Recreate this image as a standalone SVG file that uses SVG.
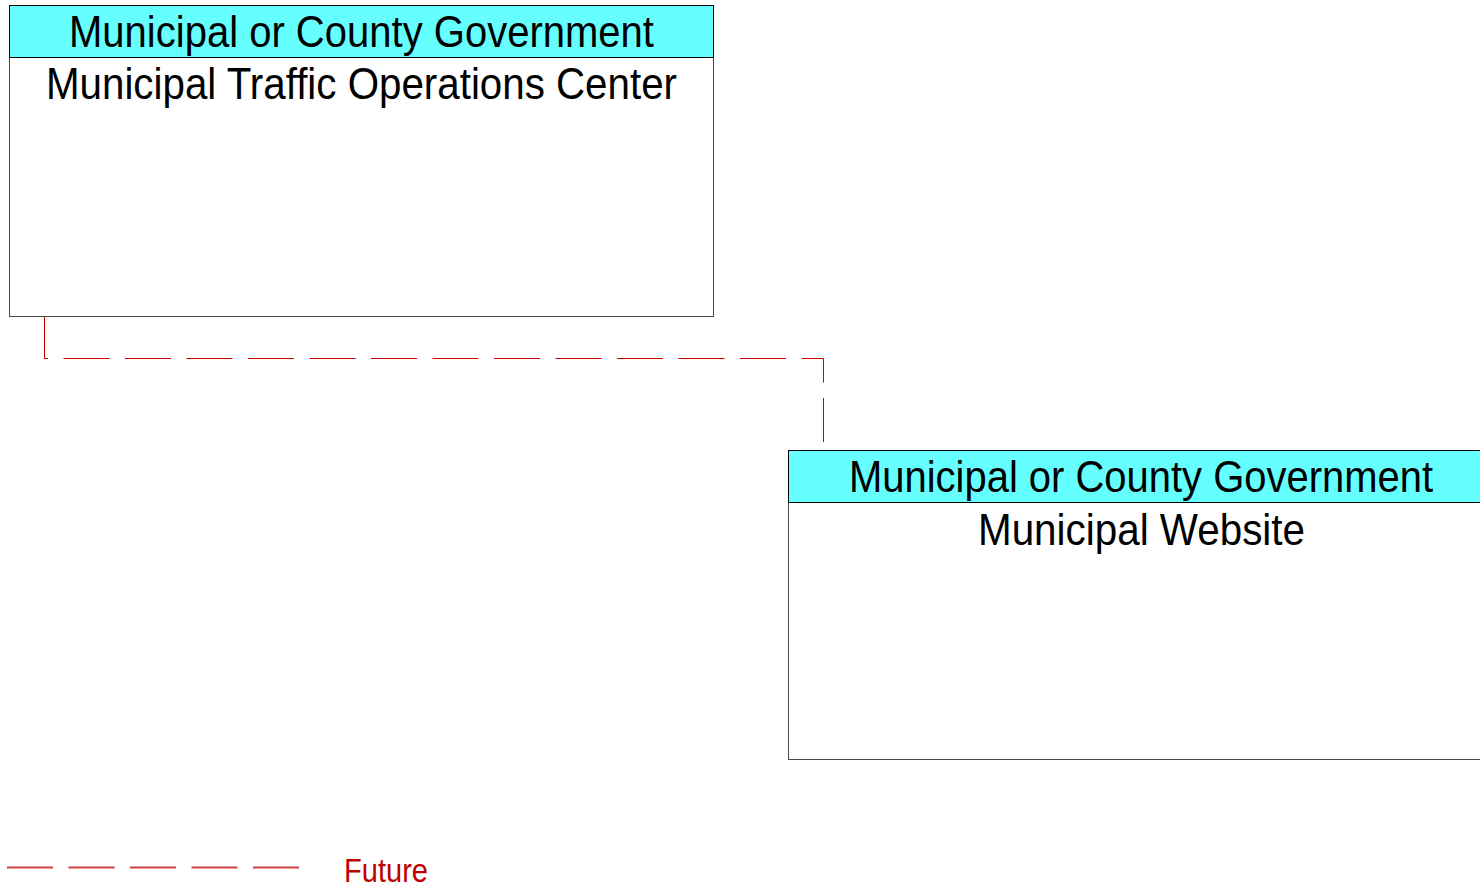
<svg xmlns="http://www.w3.org/2000/svg" width="1480" height="887" viewBox="0 0 1480 887">
<style>
.box{fill:#ffffff;stroke:#4a4a4a;stroke-width:1}
.hdr{fill:#66ffff;stroke:#000000;stroke-width:1}
.t{font-family:"Liberation Sans",Arial,sans-serif;font-size:44px;fill:#000000;text-anchor:middle}
.flow{fill:none;stroke:#cc0000;stroke-width:1;stroke-dasharray:46 15.5}
.leg{font-family:"Liberation Sans",Arial,sans-serif;font-size:34px;fill:#c00000}
</style>
<rect width="1480" height="887" fill="#ffffff"/>
<g id="connectors">
<path class="flow" d="M44.5,316 L44.5,358.5 L823.5,358.5 L823.5,442"/>
</g>
<g id="node-traffic-ops">
<rect class="box" x="9.5" y="5.5" width="704" height="311"/>
<rect class="hdr" x="9.5" y="5.5" width="704" height="52"/>
<text class="t" x="361.5" y="47" textLength="585" lengthAdjust="spacingAndGlyphs">Municipal or County Government</text>
<text class="t" x="361.5" y="99" textLength="631" lengthAdjust="spacingAndGlyphs">Municipal Traffic Operations Center</text>
</g>
<g id="node-website">
<rect class="box" x="788.5" y="450.5" width="704" height="309"/>
<rect class="hdr" x="788.5" y="450.5" width="704" height="52"/>
<text class="t" x="1141" y="492" textLength="584" lengthAdjust="spacingAndGlyphs">Municipal or County Government</text>
<text class="t" x="1141.5" y="545" textLength="327" lengthAdjust="spacingAndGlyphs">Municipal Website</text>
</g>
<g id="legend">
<line x1="7" y1="867.5" x2="300" y2="867.5" stroke="#d04040" stroke-width="2" stroke-dasharray="46 15.5"/>
<text class="leg" x="344" y="882" textLength="84" lengthAdjust="spacingAndGlyphs">Future</text>
</g>
</svg>
